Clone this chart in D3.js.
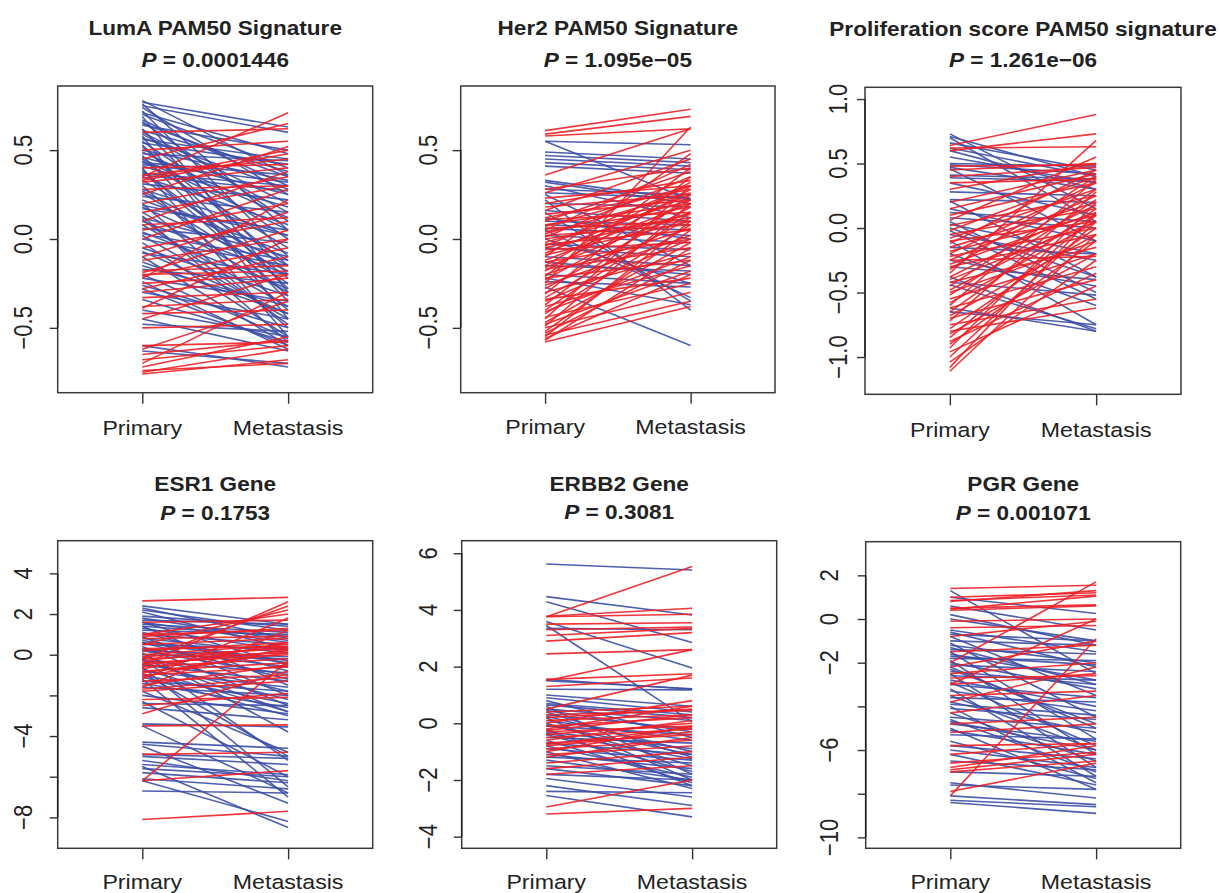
<!DOCTYPE html>
<html><head><meta charset="utf-8">
<script src="https://cdn.jsdelivr.net/npm/d3@7"></script>
<style>body{margin:0;background:#fff} svg{display:block}</style>
</head><body><svg id="c" width="1219" height="893"></svg>
<script>
// ---------------- DATA ----------------
const groups = ["Primary", "Metastasis"];
const titles = ["LumA PAM50 Signature", "Her2 PAM50 Signature", "Proliferation score PAM50 signature",
                "ESR1 Gene", "ERBB2 Gene", "PGR Gene"];
const pValues = ["0.0001446", "1.095e\u221205", "1.261e\u221206", "0.1753", "0.3081", "0.001071"];

const yTicks = [[0.5, 0, -0.5], [0.5, 0, -0.5], [1, 0.5, 0, -0.5, -1],
                [4, 2, 0, -2, -4, -6, -8], [6, 4, 2, 0, -2, -4], [2, 0, -2, -4, -6, -8, -10]];
const yTickLabels = [["0.5", "0.0", "\u22120.5"], ["0.5", "0.0", "\u22120.5"],
                     ["1.0", "0.5", "0.0", "\u22120.5", "\u22121.0"],
                     ["4", "2", "0", "", "\u22124", "", "\u22128"],
                     ["6", "4", "2", "0", "\u22122", "\u22124"],
                     ["2", "0", "\u22122", "", "\u22126", "", "\u221210"]];

// LumA PAM50 signature (paired: primary, metastasis)
const lumaPrimary = [0.78,0.77,0.76,0.75,0.74,0.72,0.70,0.69,0.67,0.66,0.64,0.62,0.61,0.60,0.58,0.57,0.55,0.54,0.52,0.50,0.49,0.47,0.46,0.44,0.43,0.41,0.40,0.38,0.37,0.35,0.33,0.31,0.30,0.28,0.26,0.24,0.22,0.20,0.18,0.17,0.15,0.13,0.12,0.10,0.08,0.06,0.04,0.02,0.00,-0.02,-0.05,-0.08,-0.10,-0.13,-0.17,-0.20,-0.22,-0.24,-0.26,-0.30,-0.34,-0.40,-0.45,-0.48,-0.60,-0.63,0.48,0.36,
  0.71,0.65,0.59,0.53,0.45,0.39,0.27,0.19,0.11,0.03,-0.07,-0.15,-0.28,0.56,0.42,
  0.35,0.45,0.50,0.60,0.34,0.33,0.36,0.32,0.25,0.20,0.15,0.10,0.05,0.00,-0.05,-0.10,-0.12,-0.18,-0.19,-0.20,-0.21,-0.22,-0.25,-0.28,-0.33,-0.38,-0.39,-0.42,-0.50,-0.60,-0.62,-0.65,-0.68,-0.72,-0.74,-0.75,-0.76,0.28,0.40,-0.70,-0.30,0.08,-0.45];
const lumaMetastasis = [0.36,0.63,0.05,0.60,0.25,-0.10,0.40,-0.30,0.30,0.10,0.50,-0.20,0.38,0.20,-0.45,0.28,0.00,0.42,-0.15,0.33,0.12,-0.35,0.25,-0.05,0.36,0.18,-0.55,-0.22,0.30,0.08,-0.12,0.22,-0.40,0.02,-0.25,0.15,-0.08,-0.50,-0.18,0.05,-0.30,-0.58,-0.10,-0.20,-0.38,-0.02,-0.28,-0.45,-0.15,-0.55,-0.32,-0.20,-0.60,-0.42,-0.25,-0.56,-0.35,-0.62,-0.50,-0.45,-0.58,-0.55,-0.63,-0.52,-0.72,-0.70,0.44,0.27,
  0.48,0.35,0.15,-0.28,0.05,-0.32,-0.15,0.02,-0.48,-0.12,-0.42,-0.38,-0.60,0.45,0.32,
  0.71,0.65,0.55,0.62,0.50,0.48,0.45,0.40,0.52,0.35,0.30,0.38,0.20,0.28,0.10,0.15,0.00,-0.15,0.05,-0.18,-0.05,0.22,-0.20,-0.10,-0.30,-0.34,0.00,-0.40,-0.48,-0.58,-0.35,-0.57,-0.60,-0.55,-0.70,-0.62,-0.68,0.30,0.42,-0.30,-0.22,0.12,-0.20];

// Her2 PAM50 signature
const her2Primary = [0.55,0.55,0.49,0.47,0.45,0.43,0.41,0.33,0.32,0.30,0.28,0.26,0.25,0.22,0.16,0.15,0.12,0.10,0.08,0.05,0.02,0.00,-0.03,-0.05,-0.10,-0.13,-0.15,-0.20,-0.22,-0.24,-0.27,0.20,0.06,
  -0.58,-0.57,-0.56,-0.55,-0.54,-0.53,-0.52,-0.50,-0.49,-0.48,-0.47,-0.45,-0.44,-0.42,-0.41,-0.40,-0.38,-0.37,-0.35,-0.34,-0.33,-0.31,-0.30,-0.28,-0.26,-0.25,-0.23,-0.22,-0.21,-0.20,-0.18,-0.17,-0.16,-0.15,-0.13,-0.12,-0.10,-0.09,-0.08,-0.06,-0.05,-0.04,-0.03,-0.02,0.00,0.01,0.02,0.03,0.04,0.05,0.06,0.07,0.08,0.10,0.11,0.12,0.14,0.16,0.18,0.20,0.23,0.26,0.28,0.36,0.58,0.59,0.61];
const her2Metastasis = [0.53,0.22,0.45,0.43,0.41,0.39,0.37,0.22,0.20,0.12,0.25,0.23,-0.15,-0.40,0.10,-0.35,0.00,0.08,0.05,-0.33,-0.02,-0.25,-0.06,-0.10,-0.15,-0.20,-0.18,-0.25,-0.37,-0.27,-0.60,0.18,0.02,
  -0.38,-0.05,-0.20,0.10,-0.35,-0.12,0.05,-0.30,0.20,-0.18,-0.02,0.30,-0.25,0.08,-0.10,0.15,-0.15,0.25,0.00,-0.22,0.12,0.35,-0.08,0.18,0.02,0.63,0.22,-0.12,0.40,0.06,0.28,-0.05,0.15,0.32,0.00,0.20,0.48,0.10,0.25,-0.02,0.14,0.30,0.05,0.22,0.12,0.35,0.08,0.26,0.18,0.42,0.10,0.30,0.20,0.38,0.15,0.28,0.22,0.45,0.25,0.33,0.30,0.50,0.40,0.62,0.62,0.69,0.73];

// Proliferation score PAM50 signature
const prolPrimary = [0.73,0.71,0.70,0.66,0.62,0.60,0.55,0.50,0.49,0.47,0.46,0.41,0.39,0.28,0.22,0.21,0.12,0.05,0.03,-0.02,-0.05,-0.10,-0.15,-0.20,-0.30,-0.38,-0.42,-0.44,-0.62,-0.65,0.15,0.00,0.35,-0.25,0.08,
  0.64,0.60,0.62,-0.35,0.48,0.40,0.30,0.20,0.15,0.10,0.06,0.02,-0.02,-0.05,-0.08,-0.10,-0.12,-0.15,-0.18,-0.20,-0.22,-0.25,-0.28,-0.30,-0.32,-0.38,-0.40,-0.42,-0.45,-0.48,-0.50,-0.52,-0.55,-0.58,-0.60,-0.62,-0.65,-0.68,-0.70,-0.72,-0.75,-0.78,-0.80,-0.82,-0.85,-0.88,-0.90,-0.93,-0.96,-1.00,-1.04,-1.08,-1.11,-0.25,0.45,0.35];
const prolMetastasis = [0.15,0.40,0.05,0.45,0.40,0.30,0.35,0.48,0.42,0.30,-0.10,0.38,0.36,0.25,0.20,-0.38,0.05,-0.50,-0.20,-0.55,-0.25,-0.75,-0.20,-0.60,-0.40,-0.80,-0.52,-0.78,-0.80,-0.75,-0.10,-0.38,0.10,-0.45,0.00,
  0.88,0.73,0.63,0.68,0.49,0.47,0.50,0.45,0.42,0.35,0.55,0.25,0.40,0.15,0.30,0.05,0.45,0.20,0.10,0.35,0.00,0.25,0.12,-0.05,0.40,0.18,0.05,-0.15,0.30,0.10,-0.10,0.22,-0.20,0.05,0.38,-0.30,0.15,-0.05,-0.40,0.28,-0.55,0.00,-0.62,-0.20,0.10,-0.35,-0.10,0.20,-0.45,0.05,-0.25,0.12,-0.05,-0.22,0.50,0.38];

// ESR1 gene
const esr1Primary = [2.40,2.30,2.20,2.10,1.90,1.70,1.60,1.60,1.50,1.40,1.40,1.30,1.20,1.10,1.00,0.90,0.80,0.70,0.60,0.50,0.40,0.30,0.20,0.10,0.00,-0.10,-0.20,-0.30,-0.40,-0.50,-0.60,-0.70,-0.80,-0.90,-1.00,-1.10,-1.20,-1.40,-1.60,-1.80,-2.00,-2.30,-2.40,-2.60,-3.40,-3.50,-4.30,-4.40,-4.50,-4.90,-5.00,-5.20,-5.40,-5.60,-5.80,-6.10,-6.20,-6.70,-5.50,-0.20,0.60,1.80,-1.30,0.20,
  2.65,-0.50,-0.20,0.50,1.00,-1.20,-1.60,-2.90,-1.80,-3.50,-4.90,-6.20,-6.20,-8.10,1.60,1.00,0.80,0.50,0.30,0.20,0.00,-0.10,-0.20,-0.30,-0.40,-0.50,-0.60,-0.70,-0.80,-0.90,-1.00,-1.10,-1.30,-1.50,-1.70,-2.20,0.90,-2.50];
const esr1Metastasis = [1.50,0.80,1.20,0.30,1.40,1.50,0.60,-0.50,1.10,0.90,-1.50,0.20,1.00,-0.80,0.50,-2.00,0.10,-0.30,-1.20,0.30,-2.50,-0.60,-1.00,-3.80,-0.20,-1.80,-5.20,-0.90,-2.20,-1.30,-6.50,-2.80,-1.60,-5.00,-2.40,-3.00,-7.00,-2.60,-2.00,-4.80,-2.90,-6.00,-2.50,-3.20,-3.55,-6.80,-4.60,-5.00,-7.30,-5.10,-5.40,-6.20,-5.90,-6.00,-6.30,-6.60,-8.20,-6.80,-8.50,-2.80,-0.40,0.70,-1.80,-0.10,
  2.82,2.60,2.40,2.20,2.00,1.80,1.20,-0.80,-1.30,-3.45,-4.80,-5.70,-0.30,-7.70,1.70,1.20,0.90,0.80,0.40,0.60,0.50,0.30,0.10,0.40,0.00,0.20,-0.20,0.60,-0.40,0.10,-0.60,0.30,-1.00,-0.50,-1.10,-2.10,1.30,-1.90];

// ERBB2 gene
const erbb2Primary = [5.62,4.47,4.29,3.59,3.45,3.35,1.55,1.20,1.00,0.90,0.80,0.70,0.60,0.50,0.40,0.30,0.20,0.10,0.00,-0.10,-0.20,-0.30,-0.40,-0.50,-0.60,-0.70,-0.80,-0.90,-1.00,-1.10,-1.20,-1.30,-1.50,-1.60,-1.80,-1.95,-2.40,-2.55,-2.20,0.25,-0.05,0.65,-0.35,0.45,1.50,
  3.76,3.78,3.76,3.50,3.30,3.10,2.90,2.45,1.50,1.55,1.30,0.50,0.00,-2.95,-3.20,0.40,0.20,0.10,-0.10,-0.20,-0.30,-0.40,-0.50,-0.60,-0.70,-0.80,-0.90,-1.00,-1.10,-1.20,-1.40,-1.60,-1.80,-0.25,-0.75,0.30];
const erbb2Metastasis = [5.41,3.82,2.85,1.95,0.05,3.30,1.20,1.18,0.60,0.40,-0.50,0.30,-1.80,0.10,-1.20,-0.20,-2.00,-0.60,-1.50,-0.40,-2.20,-0.90,-1.70,-0.70,-2.10,-1.10,-1.90,-1.30,-2.30,-1.60,-1.40,-2.00,-1.80,-2.20,-2.00,-2.60,-2.45,-3.30,-2.90,-1.00,-1.10,0.20,-1.25,-0.30,1.22,
  5.53,4.06,3.85,3.55,3.40,3.35,3.20,2.60,2.60,1.75,1.60,1.70,0.80,-2.00,-3.00,0.60,0.50,0.30,0.20,0.60,-0.10,0.00,-0.20,0.10,-0.40,-0.30,-0.60,-0.10,-0.80,-0.50,-1.00,-1.20,-1.50,0.30,-0.15,0.45];

// PGR gene
const pgrPrimary = [1.30,1.00,0.60,0.20,-0.50,-0.70,-0.80,-1.00,-1.10,-1.20,-1.40,-1.50,-1.60,-1.80,-1.90,-2.00,-2.10,-2.30,-2.40,-2.50,-2.60,-2.80,-2.90,-3.00,-3.20,-3.30,-3.50,-3.60,-3.80,-4.00,-4.10,-4.30,-4.50,-4.60,-4.80,-5.00,-5.10,-5.30,-5.60,-5.80,-6.00,-6.20,-6.50,-7.00,-7.50,-8.10,-8.30,-8.40,-7.60,-0.60,-1.30,-2.20,-3.90,-4.70,-1.70,0.00,
  1.40,1.00,0.85,0.80,0.45,0.50,0.40,-0.10,-0.40,-0.80,-2.00,-3.00,-2.50,-2.70,-3.00,-3.50,-4.30,-5.20,-6.20,-6.60,-6.80,-6.90,-7.00,-7.90,-8.10,-1.50,-2.20,-3.80,-4.80,-5.80];
const pgrMetastasis = [-2.50,0.25,-0.50,-1.20,-1.50,-1.00,-3.50,-1.20,-4.50,-2.00,-1.60,-5.50,-2.80,-1.90,-6.20,-3.20,-2.40,-4.80,-3.00,-6.80,-2.80,-4.00,-5.80,-3.60,-7.20,-4.20,-6.00,-3.80,-5.20,-7.50,-4.60,-6.50,-5.00,-7.00,-5.60,-7.80,-6.20,-5.50,-7.30,-6.40,-6.80,-7.60,-6.90,-7.20,-8.20,-8.50,-8.60,-8.90,-7.80,-2.20,-3.00,-5.00,-4.40,-6.00,-2.10,-1.00,
  1.55,1.20,1.10,1.30,1.05,0.65,0.60,0.00,-0.30,-0.10,1.70,0.00,-2.00,-2.60,-2.50,-3.30,-3.50,-4.80,-5.70,-6.10,-5.80,-6.20,-6.50,-6.60,-0.90,-1.20,-1.00,-2.20,-4.50,-5.70];

const primaries = [lumaPrimary, her2Primary, prolPrimary, esr1Primary, erbb2Primary, pgrPrimary];
const metastases = [lumaMetastasis, her2Metastasis, prolMetastasis, esr1Metastasis, erbb2Metastasis, pgrMetastasis];

// ---------------- LAYOUT ----------------
const panels = [
  {x0: 57.7,  x1: 372.7, y0: 86,    y1: 392.7, ymin: -0.865, ymax: 0.861, labX: 31.7,  xlabY: 435,   t1: 35,    t2: 66.7},
  {x0: 460.7, x1: 775,   y0: 86,    y1: 392.7, ymin: -0.865, ymax: 0.861, labX: 436.7, xlabY: 433.5, t1: 35,    t2: 66.7},
  {x0: 865,   x1: 1181,  y0: 87.3,  y1: 394.3, ymin: -1.289, ymax: 1.091, labX: 846.7, xlabY: 436.5, t1: 36,    t2: 66.7},
  {x0: 57.7,  x1: 372.7, y0: 540.7, y1: 848.3, ymin: -9.52,  ymax: 5.607, labX: 31.7,  xlabY: 889,   t1: 490.7, t2: 520},
  {x0: 461.7, x1: 776.7, y0: 540.7, y1: 848.3, ymin: -4.41,  ymax: 6.443, labX: 437,   xlabY: 889,   t1: 490.7, t2: 518.5},
  {x0: 865.7, x1: 1180.7,y0: 541.7, y1: 848.3, ymin: -10.5,  ymax: 3.541, labX: 838,   xlabY: 889,   t1: 490.7, t2: 520}
];
const SX = 1.13;            // horizontal text stretch of the reference
const FONT = "'Liberation Sans', Arial, Helvetica, sans-serif";
const RED = "#ee1f26", BLUE = "#3b4ea5", INK = "#222";

const svg = d3.select("#c");

panels.forEach((p, i) => {
  const g = svg.append("g");
  const x = d3.scaleLinear().domain([0.42, 2.58]).range([p.x0, p.x1]);
  const xb = d3.scaleOrdinal().domain(groups).range([x(1), x(2)]);
  const y = d3.scaleLinear().domain([p.ymin, p.ymax]).range([p.y1, p.y0]);

  // lines, drawn in order of primary value
  const prim = primaries[i], met = metastases[i];
  const idx = d3.range(prim.length).sort((a, b) => d3.descending(prim[a], prim[b]) || a - b);
  const line = d3.line().x(d => xb(d[0])).y(d => y(d[1]));
  g.append("g").selectAll("path").data(idx).join("path")
    .attr("d", k => line([[groups[0], prim[k]], [groups[1], met[k]]]))
    .attr("fill", "none")
    .attr("stroke", k => met[k] > prim[k] ? RED : BLUE)
    .attr("stroke-width", 1.6)
    .attr("stroke-opacity", 0.9);

  // box
  g.append("rect").attr("x", p.x0).attr("y", p.y0)
    .attr("width", p.x1 - p.x0).attr("height", p.y1 - p.y0)
    .attr("fill", "none").attr("stroke", "#3a3a3a").attr("stroke-width", 1.5);

  // y axis
  const ya = d3.axisLeft(y).tickValues(yTicks[i]).tickSize(8).tickFormat("");
  const yg = g.append("g").attr("transform", `translate(${p.x0},0)`).call(ya);
  yg.select(".domain").attr("stroke", "#222").attr("stroke-width", 1.5)
    .attr("d", `M0,${y(d3.max(yTicks[i]))}V${y(d3.min(yTicks[i]))}`);
  yg.selectAll(".tick line").attr("stroke", "#333").attr("stroke-width", 1.4);
  yTicks[i].forEach((v, j) => {
    if (!yTickLabels[i][j]) return;
    g.append("text")
      .attr("transform", `translate(${p.labX},${y(v)}) scale(${SX},1) rotate(-90)`)
      .attr("text-anchor", "middle")
      .attr("font-family", FONT).attr("font-size", 22).attr("fill", INK)
      .text(yTickLabels[i][j]);
  });

  // x axis
  const xa = d3.axisBottom(xb).tickSize(11).tickFormat("");
  const xg = g.append("g").attr("transform", `translate(0,${p.y1})`).call(xa);
  xg.select(".domain").remove();
  xg.selectAll(".tick line").attr("stroke", "#333").attr("stroke-width", 1.4);
  groups.forEach(gr => {
    g.append("text")
      .attr("transform", `translate(${xb(gr)},${p.xlabY}) scale(${SX},1)`)
      .attr("text-anchor", "middle")
      .attr("font-family", FONT).attr("font-size", 20.5).attr("fill", INK)
      .text(gr);
  });

  // titles
  const cx = (p.x0 + p.x1) / 2;
  g.append("text")
    .attr("transform", `translate(${cx},${p.t1}) scale(${SX},1)`)
    .attr("text-anchor", "middle").attr("font-family", FONT)
    .attr("font-size", 20).attr("font-weight", "bold").attr("fill", INK)
    .text(titles[i]);
  const t2 = g.append("text")
    .attr("transform", `translate(${cx},${p.t2}) scale(${SX},1)`)
    .attr("text-anchor", "middle").attr("font-family", FONT)
    .attr("font-size", 20).attr("font-weight", "bold").attr("fill", INK);
  t2.append("tspan").attr("font-style", "italic").text("P");
  t2.append("tspan").text(" = " + pValues[i]);
});
</script>
</body></html>
